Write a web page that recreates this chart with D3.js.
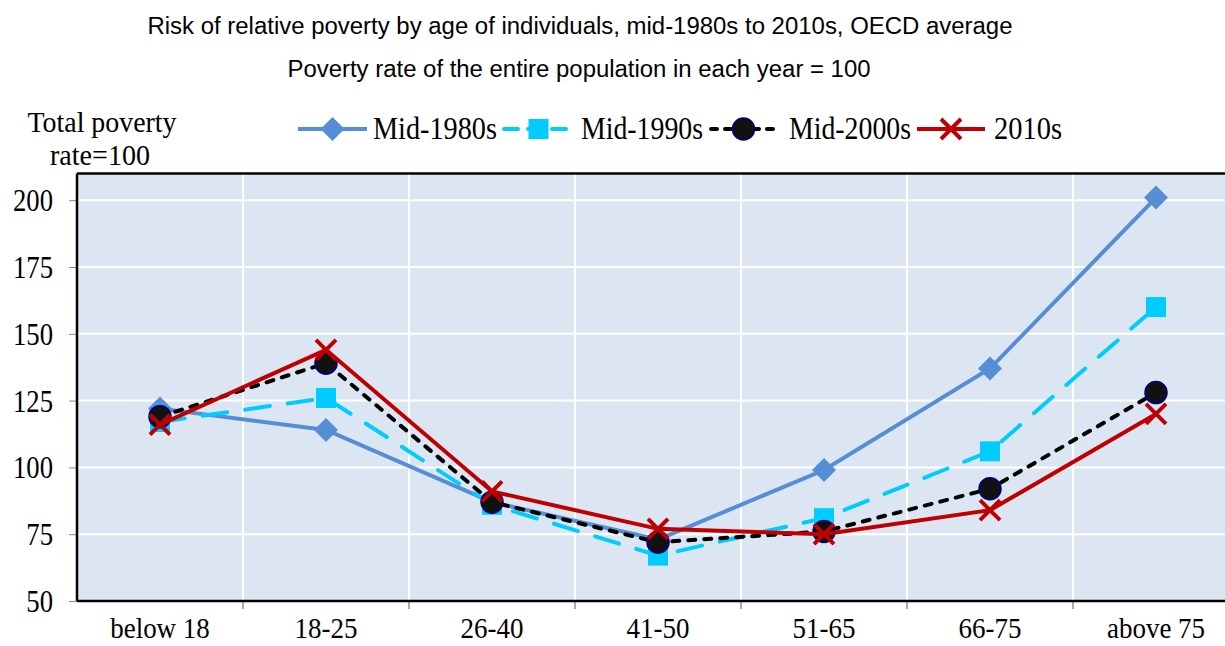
<!DOCTYPE html>
<html>
<head>
<meta charset="utf-8">
<script src="https://cdn.jsdelivr.net/npm/d3@7"></script>
<style>
  body { margin: 0; background: #fff; }
  .serif { font-family: "Liberation Serif", "Times New Roman", serif; }
  .sans { font-family: "Liberation Sans", Arial, sans-serif; }
</style>
</head>
<body>
<div id="chart"></div>
<script>
const W = 1225, H = 646;
const margin = {top: 174, left: 77, bottom: 45};

// Data - poverty risk by age, total = 100
const categories = ['below 18', '18-25', '26-40', '41-50', '51-65', '66-75', 'above 75'];
const mid1980s = [122, 114, 87, 73, 99, 137, 201];
const mid1990s = [117, 126, 86, 67, 81, 106, 160];
const mid2000s = [119, 139, 87, 72, 76, 92, 128];
const y2010s = [116, 144, 91, 77, 75, 84, 120];
const yTicks = [50, 75, 100, 125, 150, 175, 200];

const series = [
  {name: 'Mid-1980s', values: mid1980s, color: '#558ED5', dash: null, marker: 'diamond'},
  {name: 'Mid-1990s', values: mid1990s, color: '#00CCFF', dash: '25,18', marker: 'square'},
  {name: 'Mid-2000s', values: mid2000s, color: '#000000', dash: '7,9', marker: 'circle'},
  {name: '2010s', values: y2010s, color: '#C00000', dash: null, marker: 'x'}
];

const bandW = 166;
const plotBottom = H - margin.bottom;

let x = d3.scaleBand()
  .domain(categories)
  .range([margin.left, margin.left + bandW * categories.length])
  .padding(0);
let y = d3.scaleLinear()
  .domain([50, 210])
  .range([plotBottom, plotBottom - 160 * 66.8 / 25]);

let svg = d3.select('#chart').append('svg')
  .attr('width', W)
  .attr('height', H);

// squeeze serif labels a bit, the original type is narrow and tall
function squeeze(sel, k) {
  sel.each(function() {
    let w = this.getComputedTextLength();
    d3.select(this).attr('textLength', w * k).attr('lengthAdjust', 'spacingAndGlyphs');
  });
}

// Titles
svg.append('text').attr('class', 'sans')
  .attr('x', 580).attr('y', 34)
  .attr('text-anchor', 'middle').attr('font-size', 23)
  .attr('textLength', 865).attr('lengthAdjust', 'spacingAndGlyphs')
  .text('Risk of relative poverty by age of individuals, mid-1980s to 2010s, OECD average');
svg.append('text').attr('class', 'sans')
  .attr('x', 579).attr('y', 77)
  .attr('text-anchor', 'middle').attr('font-size', 23)
  .attr('textLength', 583).attr('lengthAdjust', 'spacingAndGlyphs')
  .text('Poverty rate of the entire population in each year = 100');

// Y axis unit label
svg.append('text').attr('class', 'serif')
  .attr('x', 102).attr('y', 132)
  .attr('text-anchor', 'middle').attr('font-size', 30)
  .attr('textLength', 149).attr('lengthAdjust', 'spacingAndGlyphs')
  .text('Total poverty');
svg.append('text').attr('class', 'serif')
  .attr('x', 100).attr('y', 165)
  .attr('text-anchor', 'middle').attr('font-size', 30)
  .attr('textLength', 100).attr('lengthAdjust', 'spacingAndGlyphs')
  .text('rate=100');

// Plot background
svg.append('rect')
  .attr('x', margin.left).attr('y', y(210))
  .attr('width', x.range()[1] - margin.left)
  .attr('height', plotBottom - y(210))
  .attr('fill', '#DCE6F2');

// Gridlines
let grid = svg.append('g');
grid.selectAll('.hgrid').data(yTicks.slice(1)).enter().append('line')
  .attr('x1', margin.left).attr('x2', W)
  .attr('y1', d => y(d)).attr('y2', d => y(d))
  .attr('stroke', '#fff').attr('stroke-width', 2);
grid.selectAll('.vgrid').data(categories.slice(1)).enter().append('line')
  .attr('x1', d => x(d)).attr('x2', d => x(d))
  .attr('y1', y(210)).attr('y2', plotBottom)
  .attr('stroke', '#fff').attr('stroke-width', 2);

// Y axis
let yAxis = svg.append('g')
  .attr('transform', 'translate(' + margin.left + ',0)')
  .call(d3.axisLeft(y).tickValues(yTicks).tickSize(8).tickPadding(16));
yAxis.select('.domain').remove();
yAxis.selectAll('line').attr('stroke', '#888');
yAxis.selectAll('text').attr('class', 'serif').attr('font-size', 31).attr('fill', '#000')
  .attr('dy', '0.34em')
  .call(squeeze, 0.86);

// X axis
let xAxis = svg.append('g')
  .attr('transform', 'translate(0,' + plotBottom + ')')
  .call(d3.axisBottom(x).tickSize(0).tickPadding(16));
xAxis.select('.domain').remove();
xAxis.selectAll('text').attr('class', 'serif').attr('font-size', 29).attr('fill', '#000')
  .call(squeeze, 0.93);
svg.append('g').selectAll('line').data(categories.slice(1)).enter().append('line')
  .attr('x1', d => x(d)).attr('x2', d => x(d))
  .attr('y1', plotBottom).attr('y2', plotBottom + 8)
  .attr('stroke', '#555').attr('stroke-width', 1);

// Frame lines
svg.append('line')
  .attr('x1', margin.left).attr('x2', W).attr('y1', y(210)).attr('y2', y(210))
  .attr('stroke', '#000').attr('stroke-width', 2.5);
svg.append('line')
  .attr('x1', margin.left).attr('x2', W).attr('y1', plotBottom).attr('y2', plotBottom)
  .attr('stroke', '#000').attr('stroke-width', 2.5);
svg.append('line')
  .attr('x1', margin.left).attr('x2', margin.left).attr('y1', y(210)).attr('y2', plotBottom)
  .attr('stroke', '#000').attr('stroke-width', 2.5);

const cx = c => x(c) + x.bandwidth() / 2;

function drawMarker(g, type, color, px, py) {
  if (type === 'diamond') {
    g.append('path')
      .attr('d', `M${px},${py - 12}L${px + 12},${py}L${px},${py + 12}L${px - 12},${py}Z`)
      .attr('fill', color);
  } else if (type === 'square') {
    g.append('rect')
      .attr('x', px - 10).attr('y', py - 10).attr('width', 20).attr('height', 20)
      .attr('fill', color);
  } else if (type === 'circle') {
    g.append('circle')
      .attr('cx', px).attr('cy', py).attr('r', 11)
      .attr('fill', '#111').attr('stroke', '#00007F').attr('stroke-width', 1.5);
  } else {
    g.append('path')
      .attr('d', `M${px - 10},${py - 10}L${px + 10},${py + 10}M${px - 10},${py + 10}L${px + 10},${py - 10}`)
      .attr('stroke', color).attr('stroke-width', 4).attr('fill', 'none');
  }
}

let line = d3.line()
  .x((d, i) => cx(categories[i]))
  .y(d => y(d));

// Series lines and markers
series.forEach(s => {
  let g = svg.append('g');
  g.append('path')
    .datum(s.values)
    .attr('d', line)
    .attr('fill', 'none')
    .attr('stroke', s.color)
    .attr('stroke-width', 4)
    .attr('stroke-dasharray', s.dash)
    .attr('stroke-linecap', s.dash ? 'round' : 'butt');
  s.values.forEach((v, i) => drawMarker(g, s.marker, s.color, cx(categories[i]), y(v)));
});

// Legend
const legend = [
  {x1: 298, x2: 367, tx: 373, tw: 124},
  {x1: 504, x2: 573, tx: 581, tw: 122},
  {x1: 711, x2: 776, tx: 789, tw: 122},
  {x1: 917, x2: 985, tx: 994, tw: 68}
];
const legendY = 129;
series.forEach((s, i) => {
  let g = svg.append('g');
  let L = legend[i];
  g.append('line')
    .attr('x1', L.x1).attr('x2', L.x2)
    .attr('y1', legendY).attr('y2', legendY)
    .attr('stroke', s.color).attr('stroke-width', 4)
    .attr('stroke-dasharray', s.dash ? (s.marker === 'square' ? '14,10' : '6,8') : null)
    .attr('stroke-linecap', s.dash ? 'round' : 'butt');
  drawMarker(g, s.marker, s.color, (L.x1 + L.x2) / 2, legendY);
  g.append('text').attr('class', 'serif')
    .attr('x', L.tx).attr('y', legendY + 10)
    .attr('font-size', 31)
    .attr('textLength', L.tw).attr('lengthAdjust', 'spacingAndGlyphs')
    .text(s.name);
});
</script>
</body>
</html>
